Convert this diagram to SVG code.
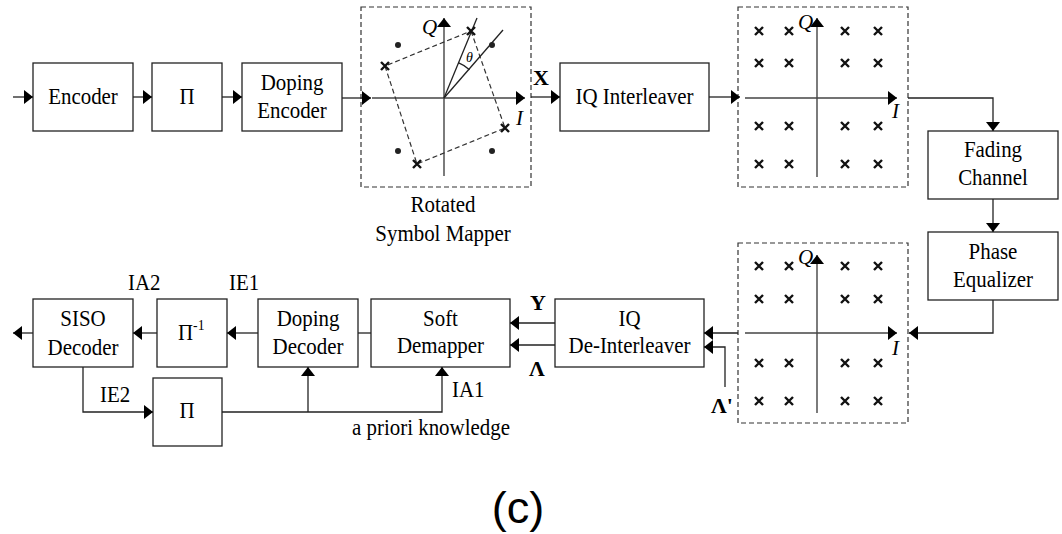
<svg xmlns="http://www.w3.org/2000/svg" xmlns:xlink="http://www.w3.org/1999/xlink" width="1062" height="534" viewBox="0 0 1062 534">
<style>
.box{fill:#fff;stroke:#222;stroke-width:1.3}
.dash{fill:none;stroke:#333;stroke-width:1.2;stroke-dasharray:5,3}
.t{font-family:"Liberation Serif",serif;font-size:23px;fill:#000;text-anchor:middle}
.lb{font-family:"Liberation Serif",serif;font-size:23px;fill:#000}
.bd{font-family:"Liberation Serif",serif;font-size:22px;font-weight:bold;fill:#000}
.it{font-family:"Liberation Serif",serif;font-size:21px;font-style:italic;fill:#000}
.ln{fill:none;stroke:#222;stroke-width:1.3}
.ax{fill:none;stroke:#444;stroke-width:1.4}
.xm{fill:none;stroke:#111;stroke-width:2.4}
</style>
<defs>
<marker id="ah" markerUnits="userSpaceOnUse" markerWidth="10" markerHeight="14" refX="9" refY="7" orient="auto">
<path d="M0,0 L9,7 L0,14 z" fill="#000"/>
</marker>
<path id="x" d="M-4,-4 L4,4 M4,-4 L-4,4"/>
</defs>

<g id="encoder"><rect class="box" x="33" y="63" width="100" height="68"/><text class="t" transform="translate(83,104) scale(0.91,1)">Encoder</text></g>
<g id="pi1"><rect class="box" x="152" y="63" width="70" height="68"/><text class="t" transform="translate(187,104) scale(0.91,1)">Π</text></g>
<g id="doping-encoder"><rect class="box" x="242" y="63" width="100" height="68"/><text class="t" transform="translate(292,90) scale(0.91,1)">Doping</text><text class="t" transform="translate(292,118) scale(0.91,1)">Encoder</text></g>

<g id="rotated-mapper">
<rect class="dash" x="361" y="7" width="170" height="180"/>
<line class="ax" x1="372" y1="98" x2="525" y2="98" marker-end="url(#ah)"/>
<line class="ax" x1="444" y1="176" x2="444" y2="18" marker-end="url(#ah)"/>
<path class="dash" d="M471,31 L505,128 L417,164 L385,66 Z"/>
<line class="ln" x1="444" y1="98" x2="477" y2="18"/>
<line class="ln" x1="444" y1="98" x2="503" y2="30"/>
<path class="ln" d="M458.2,62.7 A38,38 0 0 1 469.5,69.8"/>
<text x="466" y="62" style="font-family:'Liberation Serif',serif;font-size:14px;font-style:italic">θ</text>
<use xlink:href="#x" class="xm" x="471" y="31"/>
<use xlink:href="#x" class="xm" x="385" y="66"/>
<use xlink:href="#x" class="xm" x="505" y="128"/>
<use xlink:href="#x" class="xm" x="417" y="164"/>
<circle cx="398" cy="45" r="3" fill="#222"/>
<circle cx="492" cy="45" r="3" fill="#222"/>
<circle cx="398" cy="151" r="3" fill="#222"/>
<circle cx="492" cy="151" r="3" fill="#222"/>
<text class="it" x="422" y="34">Q</text>
<text class="it" x="516" y="125">I</text>
<text class="t" transform="translate(443,212) scale(0.91,1)">Rotated</text>
<text class="t" transform="translate(443,241) scale(0.91,1)">Symbol Mapper</text>
</g>

<g id="iq-interleaver"><rect class="box" x="560" y="63" width="149" height="68"/><text class="t" transform="translate(634.5,104) scale(0.91,1)">IQ Interleaver</text></g>

<g id="qam-tx">
<rect class="dash" x="738" y="7" width="170" height="180"/>
<line class="ax" x1="745" y1="98" x2="897" y2="98" marker-end="url(#ah)"/>
<line class="ax" x1="817" y1="177" x2="817" y2="18" marker-end="url(#ah)"/>
<g class="xm">
<use xlink:href="#x" x="759" y="31"/><use xlink:href="#x" x="789" y="31"/><use xlink:href="#x" x="845" y="31"/><use xlink:href="#x" x="878" y="31"/>
<use xlink:href="#x" x="759" y="63"/><use xlink:href="#x" x="789" y="63"/><use xlink:href="#x" x="845" y="63"/><use xlink:href="#x" x="878" y="63"/>
<use xlink:href="#x" x="759" y="126"/><use xlink:href="#x" x="789" y="126"/><use xlink:href="#x" x="845" y="126"/><use xlink:href="#x" x="878" y="126"/>
<use xlink:href="#x" x="759" y="164"/><use xlink:href="#x" x="789" y="164"/><use xlink:href="#x" x="845" y="164"/><use xlink:href="#x" x="878" y="164"/>
</g>
<text class="it" x="798" y="29">Q</text>
<text class="it" x="892" y="118">I</text>
</g>

<g id="fading-channel"><rect class="box" x="928" y="131" width="130" height="68"/><text class="t" transform="translate(993,157) scale(0.91,1)">Fading</text><text class="t" transform="translate(993,185) scale(0.91,1)">Channel</text></g>
<g id="phase-equalizer"><rect class="box" x="928" y="232" width="130" height="68"/><text class="t" transform="translate(993,259) scale(0.91,1)">Phase</text><text class="t" transform="translate(993,287) scale(0.91,1)">Equalizer</text></g>

<g id="qam-rx">
<rect class="dash" x="738" y="243" width="170" height="180"/>
<line class="ax" x1="745" y1="333" x2="897" y2="333" marker-end="url(#ah)"/>
<line class="ax" x1="817" y1="413" x2="817" y2="255" marker-end="url(#ah)"/>
<g class="xm">
<use xlink:href="#x" x="759" y="266"/><use xlink:href="#x" x="789" y="266"/><use xlink:href="#x" x="845" y="266"/><use xlink:href="#x" x="878" y="266"/>
<use xlink:href="#x" x="759" y="299"/><use xlink:href="#x" x="789" y="299"/><use xlink:href="#x" x="845" y="299"/><use xlink:href="#x" x="878" y="299"/>
<use xlink:href="#x" x="759" y="363"/><use xlink:href="#x" x="789" y="363"/><use xlink:href="#x" x="845" y="363"/><use xlink:href="#x" x="878" y="363"/>
<use xlink:href="#x" x="759" y="401"/><use xlink:href="#x" x="789" y="401"/><use xlink:href="#x" x="845" y="401"/><use xlink:href="#x" x="878" y="401"/>
</g>
<text class="it" x="798" y="264">Q</text>
<text class="it" x="892" y="355">I</text>
</g>

<g id="iq-deinterleaver"><rect class="box" x="555" y="299" width="149" height="68"/><text class="t" transform="translate(629.5,326) scale(0.91,1)">IQ</text><text class="t" transform="translate(629.5,353) scale(0.91,1)">De-Interleaver</text></g>
<g id="soft-demapper"><rect class="box" x="371" y="299" width="139" height="68"/><text class="t" transform="translate(440.5,326) scale(0.91,1)">Soft</text><text class="t" transform="translate(440.5,353) scale(0.91,1)">Demapper</text></g>
<g id="doping-decoder"><rect class="box" x="258" y="299" width="100" height="68"/><text class="t" transform="translate(308,326) scale(0.91,1)">Doping</text><text class="t" transform="translate(308,354) scale(0.91,1)">Decoder</text></g>
<g id="pi-inv"><rect class="box" x="157" y="299" width="70" height="68"/><text class="lb" transform="translate(178,340) scale(0.91,1)">Π<tspan dy="-10" font-size="15">-1</tspan></text></g>
<g id="siso-decoder"><rect class="box" x="33" y="299" width="100" height="68"/><text class="t" transform="translate(83,326) scale(0.91,1)">SISO</text><text class="t" transform="translate(83,355) scale(0.91,1)">Decoder</text></g>
<g id="pi2"><rect class="box" x="153" y="378" width="69" height="68"/><text class="t" transform="translate(187,418) scale(0.91,1)">Π</text></g>

<g id="connectors">
<line class="ln" x1="13" y1="97" x2="33" y2="97" marker-end="url(#ah)"/>
<line class="ln" x1="133" y1="97" x2="152" y2="97" marker-end="url(#ah)"/>
<line class="ln" x1="222" y1="97" x2="242" y2="97" marker-end="url(#ah)"/>
<line class="ln" x1="342" y1="98" x2="371" y2="98" marker-end="url(#ah)"/>
<line class="ln" x1="531" y1="97" x2="560" y2="97" marker-end="url(#ah)"/>
<line class="ln" x1="709" y1="97" x2="740" y2="97" marker-end="url(#ah)"/>
<polyline class="ln" points="908,98 993,98 993,131" marker-end="url(#ah)"/>
<line class="ln" x1="993" y1="199" x2="993" y2="232" marker-end="url(#ah)"/>
<polyline class="ln" points="993,300 993,333 909,333" marker-end="url(#ah)"/>
<line class="ln" x1="738" y1="333" x2="704" y2="333" marker-end="url(#ah)"/>
<polyline class="ln" points="725,387 725,347 704,347" marker-end="url(#ah)"/>
<line class="ln" x1="555" y1="323" x2="510" y2="323" marker-end="url(#ah)"/>
<line class="ln" x1="555" y1="345" x2="510" y2="345" marker-end="url(#ah)"/>
<line class="ln" x1="371" y1="333" x2="358" y2="333"/>
<line class="ln" x1="258" y1="333" x2="227" y2="333" marker-end="url(#ah)"/>
<line class="ln" x1="157" y1="333" x2="133" y2="333" marker-end="url(#ah)"/>
<line class="ln" x1="33" y1="333" x2="13" y2="333" marker-end="url(#ah)"/>
<polyline class="ln" points="83,367 83,412 153,412" marker-end="url(#ah)"/>
<polyline class="ln" points="222,412 442,412 442,367" marker-end="url(#ah)"/>
<polyline class="ln" points="308,412 308,367" marker-end="url(#ah)"/>
</g>

<g id="labels">
<text class="bd" x="533" y="85">X</text>
<text class="bd" x="530" y="310">Y</text>
<text class="bd" x="529" y="376">Λ</text>
<text class="bd" x="711" y="413">Λ'</text>
<text class="lb" transform="translate(128,290) scale(0.91,1)">IA2</text>
<text class="lb" transform="translate(229,290) scale(0.91,1)">IE1</text>
<text class="lb" transform="translate(100,402) scale(0.91,1)">IE2</text>
<text class="lb" transform="translate(452,397) scale(0.91,1)">IA1</text>
<text class="lb" transform="translate(352,435) scale(0.91,1)">a priori knowledge</text>
<text x="518" y="523" style="font-family:'Liberation Sans',sans-serif;font-size:45px;text-anchor:middle">(c)</text>
</g>
</svg>
